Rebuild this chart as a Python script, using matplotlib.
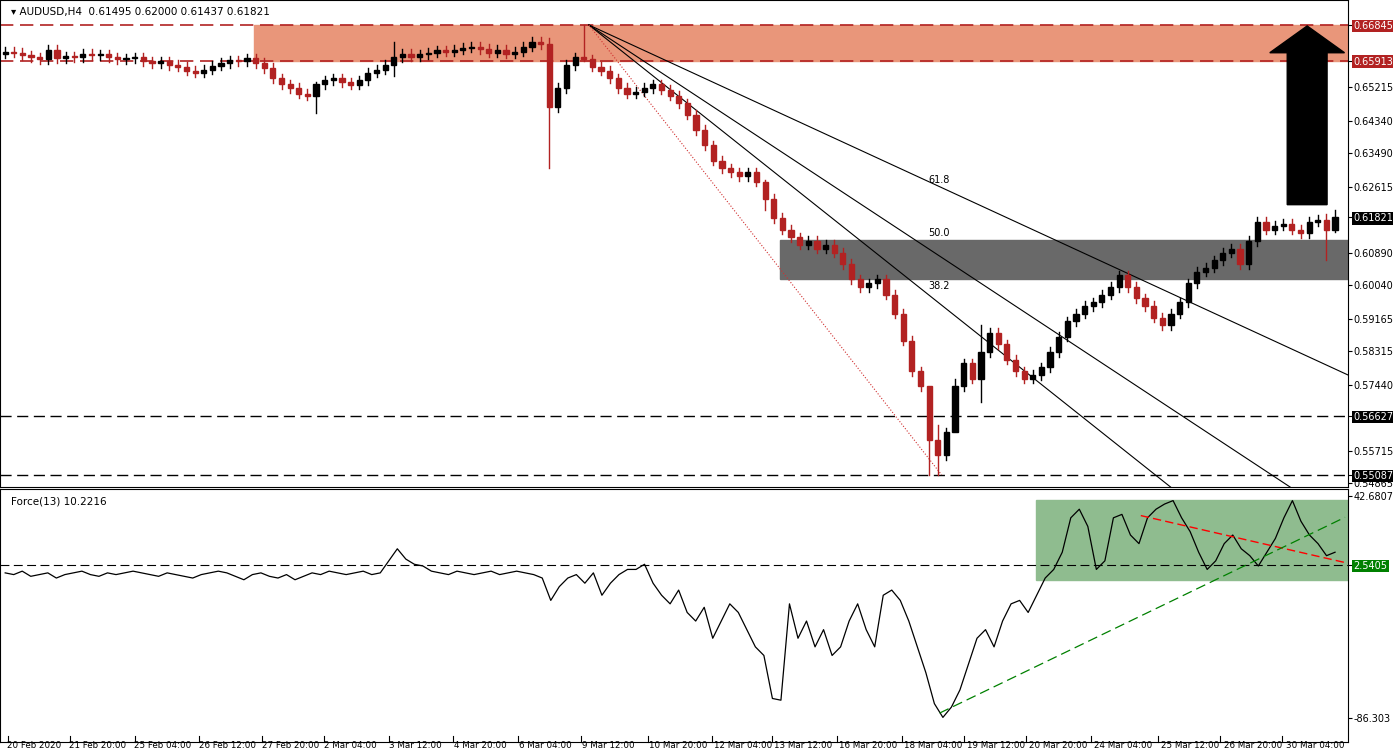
import numpy as np
import matplotlib.pyplot as plt
from matplotlib.patches import Rectangle, FancyArrow

# ---- data ----
closes = [0.6615,0.6612,0.6605,0.6600,0.6595,0.6620,0.6598,0.6603,0.6600,0.6610,0.6605,0.6608,0.6600,0.6595,0.6598,
          0.6600,0.6590,0.6585,0.6590,0.6580,0.6575,0.6565,0.6560,0.6568,0.6578,0.6585,0.6592,0.6590,0.6598,
          0.6585,0.6572,0.6545,0.6530,0.6520,0.6505,0.6500,0.6530,
          0.6540,0.6545,0.6535,0.6528,0.6540,0.6560,0.6568,0.6580,0.6600,0.6610,
          0.6602,0.6608,0.6612,0.6618,0.6615,0.6620,0.6625,0.6628,0.6622,0.6612,0.6620,0.6610,0.6615,0.6628,0.6640,0.6635,
          0.6470,
          0.6520,0.6580,0.6600,0.6595,
          0.6575,0.6565,0.6545,0.6520,0.6505,0.6510,0.6520,0.6530,0.6515,0.6500,0.6480,0.6450,0.6410,
          0.6370,0.6330,0.6310,0.6300,0.6290,0.6300,0.6275,0.6230,0.6180,0.6150,
          0.6130,0.6110,0.6120,0.6100,0.6110,0.6090,0.6060,0.6020,0.6000,0.6010,
          0.6020,0.5980,0.5930,0.5860,0.5780,0.5740,0.5600,0.5560,0.5620,
          0.5740,0.5800,0.5760,0.5830,0.5880,0.5850,0.5810,0.5780,0.5760,0.5770,0.5790,0.5830,0.5870,0.5910,0.5930,0.5950,
          0.5960,0.5980,0.6000,0.6030,0.6000,0.5970,0.5950,0.5920,0.5900,0.5930,
          0.5960,0.6010,0.6040,0.6050,0.6070,0.6090,0.6100,0.6060,0.6120,0.6170,
          0.6150,0.6160,0.6165,0.6150,0.6140,0.6170,0.6175,0.6150,0.6182]
first_open = 0.6610
# notable wick extremes: index -> (high, low)
wicks = {36: (0.6535, 0.6455), 63: (0.6650, 0.6310), 45: (0.6640, 0.6550), 67: (0.6684, 0.6590),
         107: (0.5720, 0.5509), 108: (0.5640, 0.5509), 110: (0.5760, 0.5663), 113: (0.5900, 0.5700),
         88: (0.6280, 0.6200), 154: (0.6200, 0.6144), 153: (0.6190, 0.6070)}

force = [-2,-3,-1,-4,-3,-2,-5,-3,-2,-1,-3,-4,-2,-3,-2,-1,-2,-3,-4,-2,-3,-4,-5,-3,-2,-1,-2,-4,-6,-3,
         -2,-4,-5,-3,-6,-4,-2,-3,-1,-2,-3,-2,-1,-3,-2,5,12,6,3,2,-1,-2,-3,-1,-2,-3,-2,-1,-3,-2,-1,-2,-3,
         -5,-18,-10,-5,-3,-8,-2,-15,-8,-3,0,0,3,-8,-15,-20,-12,-25,
         -30,-22,-40,-30,-20,-25,-35,-45,-50,-75,
         -76,-20,-40,-30,-45,-35,-50,-45,-30,-20,
         -35,-45,-15,-12,-18,-30,-45,-60,-78,-86,
         -80,-70,-55,-40,-35,-45,-30,-20,-18,-25,-15,-5,0,10,30,
         35,25,0,5,30,32,20,15,30,35,38,40,30,22,10,0,5,15,20,12,8,2,10,18,30,40,28,20,15,8,10]

date_labels = ["20 Feb 2020","21 Feb 20:00","25 Feb 04:00","26 Feb 12:00","27 Feb 20:00","2 Mar 04:00",
               "3 Mar 12:00","4 Mar 20:00","6 Mar 04:00","9 Mar 12:00","10 Mar 20:00","12 Mar 04:00",
               "13 Mar 12:00","16 Mar 20:00","18 Mar 04:00","19 Mar 12:00","20 Mar 20:00","24 Mar 04:00",
               "25 Mar 12:00","26 Mar 20:00","30 Mar 04:00"]
label_px = [3,65,130,195,258,320,385,450,515,578,645,710,770,835,900,963,1025,1090,1157,1220,1282]

price_ticks = [0.66845,0.65913,0.65215,0.64340,0.63490,0.62615,0.61821,0.60890,0.60040,0.59165,
               0.58315,0.57440,0.56627,0.55715,0.55087,0.54865]
zone_top = (0.65913, 0.66845)
zone_mid = (0.6021, 0.6123)
supports = [0.56627, 0.55087]

n = len(closes)
opens = [first_open] + closes[:-1]
xmax = 155.5
ppx = xmax / 1348.0  # index units per pixel

fig = plt.figure(figsize=(13.93, 7.52), dpi=100)
ax = fig.add_axes([0, 1 - 487/752, 1348/1393, 487/752])
ax2 = fig.add_axes([0, 10/752, 1348/1393, 253/752])

ylo, yhi = 0.54773, 0.67498
for a in (ax, ax2):
    a.set_xlim(-0.6, xmax)
    a.set_xticks([])
    a.yaxis.tick_right()
    a.tick_params(axis='y', labelsize=7, length=3, pad=1)
ax.set_ylim(ylo, yhi)

# zones
ax.add_patch(Rectangle((250*ppx, zone_top[0]), xmax, zone_top[1]-zone_top[0], color='#e9967a', zorder=0))
ax.add_patch(Rectangle((778*ppx, zone_mid[0]), xmax, zone_mid[1]-zone_mid[0], color='#696969', zorder=0))
for p in zone_top:
    ax.axhline(p, color='#b22222', ls=(0, (8, 4)), lw=1.2, zorder=1)
for p in supports:
    ax.axhline(p, color='black', ls=(0, (8, 4)), lw=1.0, zorder=1)

# candles
for i in range(n):
    o, c = opens[i], closes[i]
    hi, lo = wicks.get(i, (max(o, c) + 0.0012, min(o, c) - 0.0012))
    col = 'black' if c >= o else '#b22222'
    ax.plot([i, i], [lo, hi], color=col, lw=1, zorder=3)
    h = abs(c - o) if abs(c - o) > 0.0003 else 0.0003
    ax.add_patch(Rectangle((i - 0.3, min(o, c)), 0.6, h, color=col, zorder=4))

# fan lines from the high
x0, p0 = 586*ppx, 0.66845
for (x1, p1, st, colr) in [(1348*ppx, 0.5770, '-', 'black'), (1290*ppx, 0.5477, '-', 'black'),
                           (1170*ppx, 0.5477, '-', 'black'), (940*ppx, 0.5509, ':', '#d03030')]:
    ax.plot([x0, x1], [p0, p1], color=colr, ls=st, lw=0.8, zorder=2)
for lab, px, p in [("61.8", 937, 0.6266), ("50.0", 937, 0.6128), ("38.2", 937, 0.5990)]:
    ax.text(px*ppx, p, lab, fontsize=7, ha='center', va='bottom')

# arrow
ax.add_patch(FancyArrow(1307*ppx, 0.6215, 0, 0.0467, width=40*ppx, head_width=75*ppx,
                        head_length=0.0070, color='black', length_includes_head=True, zorder=5))

ax.set_yticks(price_ticks)
ax.set_yticklabels([f"{t:.5f}" for t in price_ticks])
for t in ax.get_yticklabels():
    txt = t.get_text()
    if txt in ("0.66845", "0.65913"):
        t.set_color('white'); t.set_bbox(dict(facecolor='#b22222', edgecolor='none', pad=1))
    elif txt in ("0.61821", "0.56627", "0.55087"):
        t.set_color('white'); t.set_bbox(dict(facecolor='black', edgecolor='none', pad=1))
ax.text(0.008, 0.985, "\u25BE AUDUSD,H4  0.61495 0.62000 0.61437 0.61821", transform=ax.transAxes,
        fontsize=7.5, va='top')

# force index panel
ax2.set_ylim(-100.3, 46.75)
fx = np.linspace(0, n - 1, len(force))
ax2.add_patch(Rectangle((1035*ppx, -6.2), xmax, 46.5, color='#8fbc8f', zorder=0))
ax2.axhline(2.5405, color='black', ls=(0, (8, 4)), lw=0.8)
ax2.plot(fx, force, color='black', lw=0.9)
ax2.plot([1140*ppx, 1345*ppx], [31.3, 4.0], color='red', ls=(0, (6, 3)), lw=1)
ax2.plot([938*ppx, 1345*ppx], [-83.5, 30.3], color='green', ls=(0, (8, 4)), lw=0.9)
ax2.set_yticks([42.6807, 2.5405, -86.303])
ax2.set_yticklabels(["42.6807", "2.5405", "-86.303"])
lab = ax2.get_yticklabels()[1]
lab.set_color('white'); lab.set_bbox(dict(facecolor='green', edgecolor='none', pad=1))
ax2.text(0.008, 0.97, "Force(13) 10.2216", transform=ax2.transAxes, fontsize=7.5, va='top')

for lbl, px in zip(date_labels, label_px):
    fig.text((px + 4)/1393, 2/752, lbl, fontsize=6.3, ha='left', va='bottom')
    ax2.plot([px*ppx]*2, [-100.3, -97], color='black', lw=0.8, clip_on=False)

plt.savefig('out.png', dpi=100)
